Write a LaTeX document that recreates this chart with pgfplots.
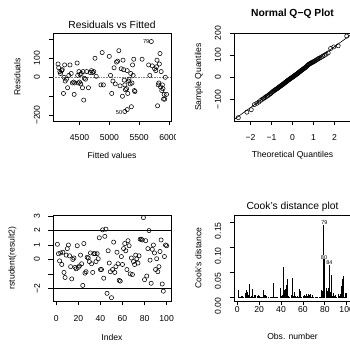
\documentclass[border=0pt]{standalone}
\usepackage{fontspec}
\setmainfont{Liberation Sans}
\usepackage{pgfplots}
\pgfplotsset{compat=1.18}
\pgfplotsset{
  rpanel/.style={
    scale only axis, anchor=south west,
    axis line style={line width=0.6pt},
    every tick/.style={black, line width=0.6pt},
    tick align=outside, major tick length=4.5pt,
    xtick pos=left, ytick pos=left,
    tick label style={font=\fontsize{8.6}{10}\selectfont},
    label style={font=\fontsize{8.6}{10}\selectfont},
    title style={font=\fontsize{10.3}{12}\selectfont, anchor=center},
    xticklabel style={anchor=center, yshift=-12.5pt},
    yticklabel style={xshift=-11.5pt, rotate=90, anchor=center},
    xlabel style={anchor=center},
    ylabel style={anchor=center},
  },
  rmark/.style={only marks, mark=o, mark size=2.1pt, black, mark options={line width=0.55pt}},
}
\begin{document}
\begin{tikzpicture}
\path[use as bounding box] (0pt,0pt) rectangle (350pt,344pt);
% ---------- Panel 1: Residuals vs Fitted ----------
\begin{scope}
\clip (0pt,172pt) rectangle (175pt,344pt);
\begin{axis}[rpanel, at={(53pt,223pt)}, width=118pt, height=88pt,
  xmin=4055, xmax=6035, ymin=-230, ymax=233,
  xtick={4500,5000,5500,6000}, xticklabels={4500,5000,5500,6000},
  ytick={-200,-100,0,100,200}, yticklabels={−200,,0,100,},
  title={Residuals vs Fitted},
  title style={at={(axis description cs:0.5,1.02)}},
  xlabel={Fitted values}, xlabel style={at={(axis description cs:0.5,-0.394)}},
  ylabel={Residuals}, ylabel style={at={(axis description cs:-0.3025,0.5)}},
]
\addplot[gray, densely dotted, line width=0.6pt] coordinates {(4000,0) (6100,0)};
\addplot[rmark] coordinates {
(4140,70) (4150,50) (4170,30) (4180,20) (4200,35) (4210,40) (4230,-85) (4240,0)
(4250,65) (4260,-20) (4280,-10) (4300,-55) (4320,10) (4340,65) (4360,20) (4380,-30)
(4400,-25) (4410,-90) (4420,-30) (4460,75) (4470,10) (4480,-30) (4490,30)
(4500,-25) (4510,15) (4520,-35) (4530,20) (4550,-55) (4560,30) (4570,-120)
(4580,-5) (4600,-10) (4620,30) (4650,-55) (4680,25) (4700,35) (4720,25) (4740,30)
(4760,100) (4780,5)
(4860,-40) (4880,130) (4900,-40) (5000,110) (5020,10) (5040,-85) (5060,-20) (5080,50)
(5100,-35) (5120,80) (5140,85) (5160,140) (5180,-45) (5200,45) (5220,-100) (5230,90)
(5240,40) (5250,-15) (5260,-40) (5270,-65) (5260,-180) (5290,-60) (5300,35) (5310,-85)
(5320,-20) (5330,-10) (5300,-170) (5350,-35) (5360,20) (5370,-155) (5380,-30) (5390,65)
(5400,10) (5410,95) (5420,-70) (5430,-75) (5550,95)
(5660,65) (5680,10) (5705,188) (5720,60) (5760,45) (5780,35) (5790,55) (5800,90)
(5810,-150) (5820,-40) (5830,-30) (5840,70) (5850,125) (5860,-50) (5870,30) (5880,-70)
(5890,-40) (5900,-60) (5910,-115) (5920,-90) (5930,-115) (5940,0) (5960,-90)
};
\node[font=\fontsize{5.7}{6}\selectfont] at (axis cs:5619,188) {79};
\node[font=\fontsize{5.7}{6}\selectfont] at (axis cs:5165,-186) {50};
\end{axis}
\end{scope}
% ---------- Panel 2: Normal Q-Q ----------
\begin{axis}[rpanel, at={(234pt,223pt)}, width=117pt, height=88pt,
  xmin=-2.78, xmax=2.78, ymin=-198, ymax=200,
  xtick={-2,-1,0,1,2}, xticklabels={−2,−1,0,1,2},
  ytick={-100,0,100,200}, yticklabels={−100,0,100,200},
  title={\bfseries Normal Q−Q Plot},
  title style={at={(axis description cs:0.5,1.15)}},
  xlabel={Theoretical Quantiles}, xlabel style={at={(axis description cs:0.5,-0.394)}},
  ylabel={Sample Quantiles}, ylabel style={at={(axis description cs:-0.299,0.5)}},
]
\addplot[black, line width=0.6pt] coordinates {(-3,-206.5) (3,207.5)};
\addplot[rmark] coordinates {
(-2.576,-183) (-2.170,-158) (-1.960,-147) (-1.812,-124) (-1.695,-118) (-1.598,-112)
(-1.514,-105) (-1.440,-100) (-1.372,-96) (-1.311,-92) (-1.254,-88) (-1.200,-85)
(-1.150,-82) (-1.103,-78) (-1.058,-75) (-1.015,-72) (-0.974,-68) (-0.935,-65)
(-0.897,-62) (-0.860,-60) (-0.824,-57) (-0.789,-55) (-0.755,-53) (-0.723,-51)
(-0.690,-49) (-0.659,-46) (-0.628,-44) (-0.598,-42) (-0.568,-40) (-0.539,-38)
(-0.510,-36) (-0.482,-34) (-0.454,-32) (-0.426,-30) (-0.399,-28) (-0.372,-26)
(-0.345,-24) (-0.319,-22) (-0.292,-20) (-0.266,-18) (-0.240,-16) (-0.215,-14)
(-0.189,-12) (-0.164,-11) (-0.138,-9) (-0.113,-7) (-0.088,-5) (-0.063,-4)
(-0.038,-2) (-0.013,-1)
(0.013,1) (0.038,3) (0.063,5) (0.088,6) (0.113,8) (0.138,10) (0.164,12) (0.189,13)
(0.215,15) (0.240,17) (0.266,19) (0.292,21) (0.319,23) (0.345,25) (0.372,27) (0.399,29)
(0.426,31) (0.454,33) (0.482,35) (0.510,37) (0.539,39) (0.568,41) (0.598,43) (0.628,45)
(0.659,48) (0.690,51) (0.723,54) (0.755,57) (0.789,59) (0.824,61) (0.860,63) (0.897,65)
(0.935,67) (0.974,69) (1.015,71) (1.058,73) (1.103,76) (1.150,79) (1.200,82) (1.254,85)
(1.311,88) (1.372,91) (1.440,95) (1.514,99) (1.598,104) (1.695,110) (1.812,130)
(1.960,137) (2.170,142) (2.576,186)
};
\end{axis}
% ---------- Panel 3: rstudent ----------
\begin{axis}[rpanel, at={(53pt,43pt)}, width=118pt, height=86pt,
  xmin=-2.96, xmax=103.96, ymin=-2.88, ymax=3.08,
  xtick={0,20,40,60,80,100}, xticklabels={0,20,40,60,80,100},
  ytick={-2,-1,0,1,2,3}, yticklabels={−2,,0,1,2,3},
  xticklabel style={yshift=-0.7pt},
  xlabel={Index}, xlabel style={at={(axis description cs:0.5,-0.427)}},
  ylabel={rstudent(result2)}, ylabel style={at={(axis description cs:-0.345,0.5)}},
]
\addplot[black, line width=0.6pt] coordinates {(-10,2) (110,2)};
\addplot[black, line width=0.6pt] coordinates {(-10,-2) (110,-2)};
\addplot[rmark] coordinates {
(1,1.05) (2,0.40) (3,-0.10) (4,0.45) (5,-0.35) (6,0.50) (7,-0.90) (8,-1.25) (9,0.30) (10,0.75)
(11,1.00) (12,0.25) (13,-0.50) (14,-1.35) (15,0.00) (16,0.10) (17,-0.55) (18,-0.65) (19,0.95) (20,-0.55)
(21,-0.45) (22,0.30) (23,-0.30) (24,-1.80) (25,1.10) (26,-0.95) (27,-0.85) (28,0.15) (29,0.10) (30,-0.15)
(31,0.45) (32,-0.30) (33,-0.90) (34,0.40) (35,0.40) (36,-0.15) (37,0.40) (38,0.05) (39,1.50) (40,-0.70)
(41,-0.70) (42,2.05) (43,-1.30) (44,1.60) (45,2.10) (46,-2.35) (47,0.60) (48,-0.25) (49,-0.85) (50,-2.65)
(51,-0.70) (52,1.20) (53,-0.90) (54,-0.50) (55,0.50) (56,-0.30) (57,-1.45) (58,-1.50) (59,0.20) (60,-0.35)
(61,0.75) (62,1.10) (63,0.60) (64,-0.70) (65,1.30) (66,0.95) (67,-1.00) (68,0.10) (69,-1.05) (70,-0.15)
(71,-0.35) (72,0.30) (73,0.05) (74,-0.25) (75,0.25) (76,1.40) (77,1.40) (78,1.35) (79,2.90) (80,-1.40)
(81,1.30) (82,-1.15) (83,0.75) (84,2.00) (85,-0.05) (86,-1.65) (87,0.70) (88,1.00) (89,0.45) (90,-0.70)
(91,0.05) (92,-0.85) (93,-0.50) (94,0.55) (95,1.35) (96,-1.70) (97,-2.20) (98,0.20) (99,1.00) (100,0.95)
};
\end{axis}
% ---------- Panel 4: Cook's distance ----------
\begin{axis}[rpanel, at={(234pt,43pt)}, width=117pt, height=86pt,
  xmin=-2.96, xmax=103.96, ymin=-0.0065, ymax=0.165,
  xtick={0,20,40,60,80,100}, xticklabels={0,20,40,60,80,100},
  ytick={0,0.05,0.10,0.15}, yticklabels={0.00,0.05,0.10,0.15},
  xticklabel style={yshift=8.6pt},
  yticklabel style={xshift=-8.2pt},
  title={Cook's distance plot},
  title style={at={(axis description cs:0.5,1.022)}},
  xlabel={Obs. number}, xlabel style={at={(axis description cs:0.5,-0.407)}},
  ylabel={Cook's distance}, ylabel style={at={(axis description cs:-0.305,0.5)}},
]
\addplot[ycomb, black, line width=0.7pt, no marks] coordinates {
(1,0.016) (2,0.002) (3,0.001) (4,0.003) (5,0.004) (6,0.002) (7,0.010) (8,0.015) (9,0.011) (10,0.006)
(11,0.028) (12,0.002) (13,0.003) (14,0.017) (15,0.001) (16,0.005) (17,0.005) (18,0.004) (19,0.005) (20,0.003)
(21,0.002) (22,0.001) (23,0.001) (24,0.015) (25,0.006) (26,0.005) (27,0.004) (28,0.001) (29,0.000) (30,0.001)
(31,0.002) (32,0.001) (33,0.030) (34,0.002) (35,0.001) (36,0.001) (37,0.002) (38,0.000) (39,0.020) (40,0.004)
(41,0.005) (42,0.062) (43,0.016) (44,0.017) (45,0.025) (46,0.037) (47,0.004) (48,0.002) (49,0.005) (50,0.039)
(51,0.004) (52,0.011) (53,0.004) (54,0.002) (55,0.003) (56,0.001) (57,0.017) (58,0.013) (59,0.001) (60,0.003)
(61,0.006) (62,0.004) (63,0.007) (64,0.003) (65,0.007) (66,0.006) (67,0.007) (68,0.001) (69,0.006) (70,0.001)
(71,0.002) (72,0.001) (73,0.001) (74,0.000) (75,0.001) (76,0.002) (77,0.015) (78,0.013) (79,0.148) (80,0.081)
(81,0.020) (82,0.014) (83,0.019) (84,0.066) (85,0.012) (86,0.046) (87,0.004) (88,0.010) (89,0.004) (90,0.006)
(91,0.002) (92,0.008) (93,0.004) (94,0.007) (95,0.024) (96,0.037) (97,0.043) (98,0.002) (99,0.010) (100,0.010)
};
\node[font=\fontsize{5.5}{6}\selectfont, fill=white, inner sep=0.3pt] at (axis cs:79.6,0.150) {79};
\node[font=\fontsize{5.5}{6}\selectfont, fill=white, inner sep=0.3pt] at (axis cs:79.3,0.081) {80};
\node[font=\fontsize{5.5}{6}\selectfont, fill=white, inner sep=0.3pt] at (axis cs:84.2,0.070) {84};
\end{axis}
\end{tikzpicture}
\end{document}
